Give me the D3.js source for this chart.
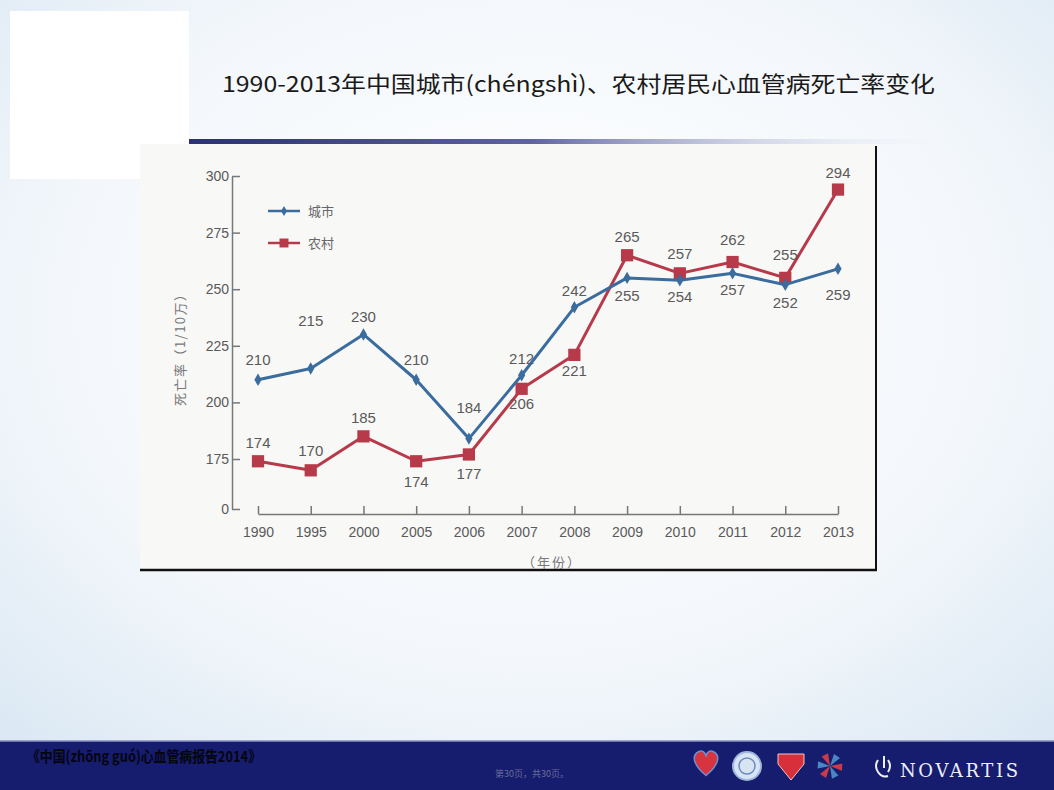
<!DOCTYPE html>
<html>
<head>
<meta charset="utf-8">
<script src="https://cdnjs.cloudflare.com/ajax/libs/d3/7.8.5/d3.min.js"></script>
<style>
  html, body { margin: 0; padding: 0; background: #eef4f9; }
  svg { display: block; }
  .num { font-family: "Liberation Sans Narrow", "Liberation Sans", "DejaVu Sans Condensed", sans-serif; }
</style>
</head>
<body>
<div id="slide"></div>
<script>
// Données
const years = ["1990", "1995", "2000", "2005", "2006", "2007", "2008", "2009", "2010", "2011", "2012", "2013"];
const urbain = [210, 215, 230, 210, 184, 212, 242, 255, 254, 257, 252, 259];
const rural = [174, 170, 185, 174, 177, 206, 221, 265, 257, 262, 255, 294];
const yTicks = [0, 175, 200, 225, 250, 275, 300];
const seriesNames = ["城市", "农村"];
const titre = "1990-2013年中国城市(chéngshì)、农村居民心血管病死亡率变化";
const source = "《中国(zhōng guó)心血管病报告2014》";
const pageText = "第30页，共30页。";

// décalage vertical des étiquettes (px) : négatif = au-dessus
const dyUrbain = [-20, -48, -18, -20, -31, -16, -17, 18, 17, 16, 18, 26];
const dyRural = [-19, -20, -19, 20, 19, 15, 16, -18, -20, -22, -23, -17];

const W = 1054, H = 790;
const svg = d3.select("#slide").append("svg").attr("width", W).attr("height", H);
const defs = svg.append("defs");

// Fond de la diapo
const bg = defs.append("radialGradient").attr("id", "bg")
  .attr("cx", "50%").attr("cy", "40%").attr("r", "75%");
bg.append("stop").attr("offset", "0%").attr("stop-color", "#ffffff");
bg.append("stop").attr("offset", "60%").attr("stop-color", "#f3f7fb");
bg.append("stop").attr("offset", "100%").attr("stop-color", "#d9e7f3");
svg.append("rect").attr("width", W).attr("height", H).attr("fill", "url(#bg)");

// Boîte blanche en haut à gauche
svg.append("rect").attr("x", 10).attr("y", 11).attr("width", 179).attr("height", 168).attr("fill", "#ffffff");

// Titre
svg.append("text")
  .attr("x", 222).attr("y", 92)
  .attr("font-family", "'Noto Sans CJK SC', 'Liberation Sans Narrow', sans-serif")
  .attr("font-size", 22)
  .attr("fill", "#1a1a1a")
  .attr("textLength", 713)
  .attr("lengthAdjust", "spacingAndGlyphs")
  .text(titre);

// Panneau du graphique
svg.append("rect").attr("x", 140).attr("y", 144).attr("width", 736).attr("height", 426).attr("fill", "#f8f8f7");
svg.append("line").attr("x1", 876).attr("x2", 876).attr("y1", 146).attr("y2", 571)
  .attr("stroke", "#111").attr("stroke-width", 2);
svg.append("line").attr("x1", 140).attr("x2", 877).attr("y1", 570).attr("y2", 570)
  .attr("stroke", "#111").attr("stroke-width", 2.5);

// Barre sous le titre
const barGrad = defs.append("linearGradient").attr("id", "bar");
barGrad.append("stop").attr("offset", "0%").attr("stop-color", "#2b2f7e");
barGrad.append("stop").attr("offset", "45%").attr("stop-color", "#5f63a0");
barGrad.append("stop").attr("offset", "100%").attr("stop-color", "#e8edf6").attr("stop-opacity", 0);
svg.append("rect").attr("x", 189).attr("y", 139).attr("width", 760).attr("height", 5).attr("fill", "url(#bar)");

// Echelles
const x = d3.scalePoint().domain(years).range([258, 838]);
const yMain = d3.scaleLinear().domain([175, 300]).range([459, 176]);
// axe coupé : 0 est placé en bas, le reste est linéaire
const y = d3.scaleLinear().domain([0, 165, 300]).range([509, yMain(165), 176]);

const gray = "#5a5a5a";

// Axe Y
const yAxis = svg.append("g")
  .attr("transform", "translate(232,0)")
  .call(d3.axisLeft(y).tickValues(yTicks).tickSize(-8).tickSizeOuter(0).tickPadding(3));
yAxis.select(".domain").attr("stroke", "#777").attr("stroke-width", 1.5);
yAxis.selectAll(".tick line").attr("stroke", "#777").attr("stroke-width", 1.5);
yAxis.selectAll(".tick text").attr("class", "num").attr("font-size", 14).attr("fill", gray);

// Axe X
const xAxis = svg.append("g")
  .attr("transform", "translate(0,514)")
  .call(d3.axisBottom(x).tickSize(-8).tickSizeOuter(0).tickPadding(13));
xAxis.select(".domain").attr("stroke", "#777").attr("stroke-width", 1.5);
xAxis.selectAll(".tick line").attr("stroke", "#777").attr("stroke-width", 1.5);
xAxis.selectAll(".tick text").attr("class", "num").attr("font-size", 14).attr("fill", gray);

// Titres des axes
svg.append("text")
  .attr("transform", "translate(185,347) rotate(-90)")
  .attr("text-anchor", "middle")
  .attr("font-family", "'Noto Sans CJK SC', sans-serif")
  .attr("font-size", 13).attr("fill", "#777")
  .attr("textLength", 118).attr("lengthAdjust", "spacing")
  .text("死亡率（1/10万）");
svg.append("text")
  .attr("x", 551).attr("y", 567)
  .attr("text-anchor", "middle")
  .attr("font-family", "'Noto Sans CJK SC', sans-serif")
  .attr("font-size", 13).attr("fill", "#777")
  .attr("textLength", 58).attr("lengthAdjust", "spacing")
  .text("（年份）");

// Séries
const series = [
  { name: seriesNames[0], values: urbain, dy: dyUrbain, color: "#3a6c9e", symbol: d3.symbolDiamond, size: 45 },
  { name: seriesNames[1], values: rural, dy: dyRural, color: "#b73a4a", symbol: d3.symbolSquare, size: 150 }
];

const line = d3.line().x((d, i) => x(years[i])).y((d) => y(d));

// dessiner le rural d'abord pour que la ligne bleue reste visible dessous
[series[1], series[0]].forEach((s) => {
  svg.append("path")
    .datum(s.values)
    .attr("fill", "none")
    .attr("stroke", s.color)
    .attr("stroke-width", 3)
    .attr("stroke-linejoin", "round")
    .attr("d", line);
  svg.append("g").selectAll("path")
    .data(s.values)
    .join("path")
    .attr("transform", (d, i) => `translate(${x(years[i])},${y(d)})`)
    .attr("d", d3.symbol().type(s.symbol).size(s.size))
    .attr("fill", s.color);
});

series.forEach((s) => {
  svg.append("g").selectAll("text")
    .data(s.values)
    .join("text")
    .attr("class", "num")
    .attr("x", (d, i) => x(years[i]))
    .attr("y", (d, i) => y(d) + s.dy[i])
    .attr("dy", "0.35em")
    .attr("text-anchor", "middle")
    .attr("font-size", 15)
    .attr("fill", gray)
    .text((d) => d);
});

// Légende
const legend = svg.append("g").attr("transform", "translate(268,211)");
series.forEach((s, i) => {
  const g = legend.append("g").attr("transform", `translate(0,${i * 32})`);
  g.append("line").attr("x1", 0).attr("x2", 32).attr("stroke", s.color).attr("stroke-width", 2.5);
  g.append("path").attr("transform", "translate(16,0)")
    .attr("d", d3.symbol().type(s.symbol).size(i === 0 ? 30 : 80)).attr("fill", s.color);
  g.append("text").attr("x", 40).attr("dy", "0.35em")
    .attr("font-family", "'Noto Sans CJK SC', sans-serif")
    .attr("font-size", 13).attr("fill", "#666")
    .text(s.name);
});

// Pied de page
svg.append("rect").attr("x", 0).attr("y", 741).attr("width", W).attr("height", 49).attr("fill", "#161c6e");
svg.append("line").attr("x1", 0).attr("x2", W).attr("y1", 741).attr("y2", 741).attr("stroke", "#8a90c4").attr("stroke-width", 1.5);
svg.append("text")
  .attr("x", 27).attr("y", 762)
  .attr("font-family", "'Noto Sans CJK SC', sans-serif")
  .attr("font-weight", "bold").attr("font-size", 15)
  .attr("fill", "#050510")
  .attr("textLength", 234).attr("lengthAdjust", "spacingAndGlyphs")
  .text(source);
svg.append("text")
  .attr("x", 532).attr("y", 777)
  .attr("text-anchor", "middle")
  .attr("font-family", "'Noto Sans CJK SC', sans-serif")
  .attr("font-size", 9).attr("fill", "#6a6e9a")
  .text(pageText);

// Logos (approximés)
const logos = svg.append("g");
const heart = "M0,6 C-10,-2 -12,-10 -6,-13 C-2,-15 0,-11 0,-9 C0,-11 2,-15 6,-13 C12,-10 10,-2 0,6 Z";
logos.append("path").attr("d", heart).attr("transform", "translate(706,768) scale(1.25)")
  .attr("fill", "#d8343f").attr("stroke", "#6e8fd0").attr("stroke-width", 1.2);
logos.append("circle").attr("cx", 747).attr("cy", 766).attr("r", 14).attr("fill", "#d9e4f2").attr("stroke", "#9fb7dc").attr("stroke-width", 2);
logos.append("circle").attr("cx", 747).attr("cy", 766).attr("r", 8).attr("fill", "none").attr("stroke", "#6a8cc4").attr("stroke-width", 1.5);
logos.append("path").attr("d", "M-13,-12 L13,-12 L13,-2 L0,14 L-13,-2 Z").attr("transform", "translate(791,766)")
  .attr("fill", "#d8303a").attr("stroke", "#f2c4c4").attr("stroke-width", 1);
const pin = logos.append("g").attr("transform", "translate(830,766)");
d3.range(6).forEach((k) => {
  pin.append("path")
    .attr("d", "M0,0 L4,-12 L10,-8 Z")
    .attr("transform", `rotate(${k * 60})`)
    .attr("fill", k % 2 ? "#c93b47" : "#4a86c2");
});
// symbole Novartis simplifié
logos.append("path")
  .attr("d", "M878,760 q-4,6 0,12 q4,6 10,4 M884,756 l0,12 M888,760 q4,6 0,12")
  .attr("fill", "none").attr("stroke", "#eef0f8").attr("stroke-width", 2);
logos.append("text").attr("x", 900).attr("y", 777)
  .attr("font-family", "'DejaVu Serif', 'Liberation Serif', serif")
  .attr("font-size", 18).attr("fill", "#eef0f8")
  .attr("textLength", 118).attr("lengthAdjust", "spacing")
  .text("NOVARTIS");
</script>
</body>
</html>
